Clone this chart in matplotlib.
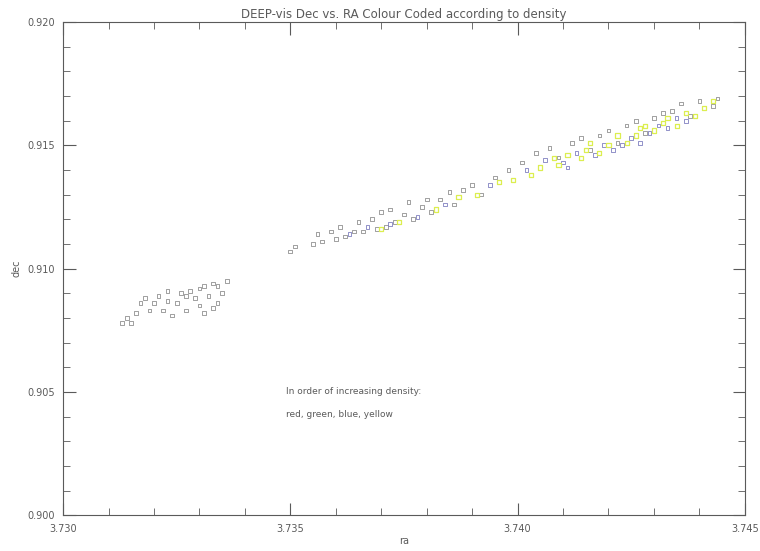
import matplotlib
matplotlib.use("Agg")
import matplotlib.pyplot as plt
from matplotlib.ticker import MultipleLocator, FormatStrFormatter

# lower density sources (printed grey in the scan)
ra_grey = [3.7313, 3.7314, 3.7315, 3.7316, 3.7317, 3.7318, 3.7320, 3.7321, 3.7322, 3.7323,
           3.7324, 3.7325, 3.7326, 3.7327, 3.7328, 3.7329, 3.7330, 3.7330, 3.7331, 3.7332,
           3.7333, 3.7334, 3.7334, 3.7335, 3.7336, 3.7319, 3.7323, 3.7327, 3.7331, 3.7333,
           3.7350, 3.7351, 3.7355, 3.7356, 3.7357, 3.7359, 3.7360, 3.7361, 3.7362, 3.7364,
           3.7365, 3.7366, 3.7368, 3.7369, 3.7370, 3.7371, 3.7372, 3.7373, 3.7375, 3.7376,
           3.7377, 3.7379, 3.7380, 3.7381, 3.7383, 3.7385, 3.7386, 3.7388, 3.7390, 3.7392,
           3.7395, 3.7398, 3.7401, 3.7404, 3.7407, 3.7409, 3.7412, 3.7414, 3.7416, 3.7418,
           3.7420, 3.7422, 3.7424, 3.7426, 3.7428, 3.7430, 3.7432, 3.7434, 3.7436, 3.7438,
           3.7440, 3.7443, 3.7444]
dec_grey = [0.9078, 0.9080, 0.9078, 0.9082, 0.9086, 0.9088, 0.9086, 0.9089, 0.9083, 0.9087,
            0.9081, 0.9086, 0.9090, 0.9083, 0.9091, 0.9088, 0.9092, 0.9085, 0.9082, 0.9089,
            0.9094, 0.9093, 0.9086, 0.9090, 0.9095, 0.9083, 0.9091, 0.9089, 0.9093, 0.9084,
            0.9107, 0.9109, 0.9110, 0.9114, 0.9111, 0.9115, 0.9112, 0.9117, 0.9113, 0.9115,
            0.9119, 0.9115, 0.9120, 0.9116, 0.9123, 0.9117, 0.9124, 0.9119, 0.9122, 0.9127,
            0.9120, 0.9125, 0.9128, 0.9123, 0.9128, 0.9131, 0.9126, 0.9132, 0.9134, 0.9130,
            0.9137, 0.9140, 0.9143, 0.9147, 0.9149, 0.9145, 0.9151, 0.9153, 0.9148, 0.9154,
            0.9156, 0.9151, 0.9158, 0.9160, 0.9155, 0.9161, 0.9163, 0.9164, 0.9167, 0.9162,
            0.9168, 0.9166, 0.9169]

ra_blue = [3.7363, 3.7367, 3.7372, 3.7378, 3.7384, 3.7394, 3.7402, 3.7406, 3.7410, 3.7413,
           3.7417, 3.7419, 3.7421, 3.7425, 3.7427, 3.7429, 3.7431, 3.7433, 3.7435, 3.7437,
           3.7411, 3.7423]
dec_blue = [0.9114, 0.9117, 0.9118, 0.9121, 0.9126, 0.9134, 0.9140, 0.9144, 0.9143, 0.9147,
            0.9146, 0.9150, 0.9148, 0.9153, 0.9151, 0.9155, 0.9158, 0.9157, 0.9161, 0.9160,
            0.9141, 0.9150]

ra_yellow = [3.7370, 3.7374, 3.7382, 3.7387, 3.7391, 3.7396, 3.7399, 3.7403, 3.7405, 3.7408,
             3.7411, 3.7414, 3.7415, 3.7418, 3.7420, 3.7422, 3.7424, 3.7426, 3.7428, 3.7430,
             3.7432, 3.7433, 3.7435, 3.7437, 3.7439, 3.7441, 3.7443, 3.7409, 3.7416, 3.7427]
dec_yellow = [0.9116, 0.9119, 0.9124, 0.9129, 0.9130, 0.9135, 0.9136, 0.9138, 0.9141, 0.9145,
              0.9146, 0.9145, 0.9148, 0.9147, 0.9150, 0.9154, 0.9151, 0.9154, 0.9158, 0.9156,
              0.9159, 0.9161, 0.9158, 0.9163, 0.9162, 0.9165, 0.9168, 0.9142, 0.9151, 0.9157]

ink = "#5a5a5a"

fig = plt.figure(figsize=(7.6, 5.51), dpi=100)
ax = fig.add_axes([0.083, 0.065, 0.897, 0.895])

ax.scatter(ra_grey, dec_grey, s=7, marker="s", facecolors="none", edgecolors="#909090", linewidths=0.6)
ax.scatter(ra_blue, dec_blue, s=7, marker="s", facecolors="none", edgecolors="#8080c0", linewidths=0.6)
ax.scatter(ra_yellow, dec_yellow, s=9, marker="s", facecolors="none", edgecolors="#dcee50", linewidths=0.9)

ax.set_xlim(3.730, 3.745)
ax.set_ylim(0.900, 0.920)
ax.xaxis.set_major_locator(MultipleLocator(0.005))
ax.xaxis.set_minor_locator(MultipleLocator(0.001))
ax.yaxis.set_major_locator(MultipleLocator(0.005))
ax.yaxis.set_minor_locator(MultipleLocator(0.001))
ax.xaxis.set_major_formatter(FormatStrFormatter("%.3f"))
ax.yaxis.set_major_formatter(FormatStrFormatter("%.3f"))

ax.tick_params(which="both", direction="in", top=True, right=True, colors=ink, labelsize=7)
ax.tick_params(which="major", length=9, width=0.8, pad=6)
ax.tick_params(which="minor", length=5, width=0.6)
for sp in ax.spines.values():
    sp.set_color(ink)
    sp.set_linewidth(0.8)

ax.set_title("DEEP-vis Dec vs. RA Colour Coded according to density", fontsize=8.5, color=ink, pad=3)
ax.set_xlabel("ra", fontsize=7, color=ink, labelpad=2)
ax.set_ylabel("dec", fontsize=7, color=ink, labelpad=4)

ax.text(3.7349, 0.9050, "In order of increasing density:", fontsize=6.5, color=ink, va="center")
ax.text(3.7349, 0.9041, "red, green, blue, yellow", fontsize=6.5, color=ink, va="center")

fig.savefig("out.png", dpi=100)
